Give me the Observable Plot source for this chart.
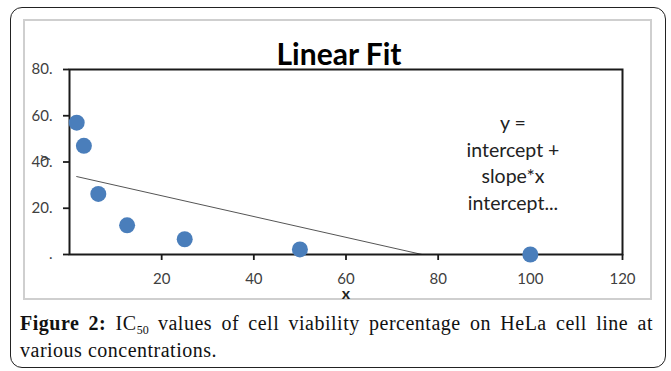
<!DOCTYPE html>
<html><head><meta charset="utf-8">
<script src="https://cdn.jsdelivr.net/npm/d3@7"></script>
<script src="https://cdn.jsdelivr.net/npm/@observablehq/plot@0.6"></script>
<style>
body{margin:0;width:671px;height:371px;position:relative;background:#fff;overflow:hidden}
#outer{position:absolute;left:10px;top:7px;width:656px;height:361px;border:1.3px solid #222;border-radius:12px;box-sizing:border-box}
#frame{position:absolute;left:23px;top:19px;width:629px;height:281px;border:2px solid #cfcfcf;box-sizing:border-box}
#chart{position:absolute;left:23px;top:19px}
#title{position:absolute;left:219px;width:240px;top:38px;text-align:center;font:bold 30px Lato,sans-serif;line-height:30px;color:#000}
#note{position:absolute;left:423px;width:180px;top:110px;text-align:center;font:19.5px Lato,sans-serif;line-height:26.5px;color:#222}
#caption{position:absolute;left:20px;width:633px;top:310px;font:20px "Liberation Serif",serif;letter-spacing:0.5px;line-height:27px;text-align:justify;color:#111}
#caption sub{font-size:12px;vertical-align:-4px;line-height:0;letter-spacing:0}
</style></head><body>
<div id="outer"></div>
<div id="frame"></div>
<div id="chart"></div>
<div id="title"></div>
<div id="note"></div>
<div id="caption"></div>
<script>
const concentrations = [1.5625, 3.125, 6.25, 12.5, 25, 50, 100];
const viability = [57, 47, 26.2, 12.6, 6.6, 2.2, 0];
const xTicks = [20, 40, 60, 80, 100, 120];
const yTicks = [0, 20, 40, 60, 80];
const yTickLabels = [".", "20.", "40.", "60.", "80."];
const titleText = "Linear Fit";
const xLabel = "x";
const yLabel = "y";
const annotationLines = ["y =", "intercept +", "slope*x", "intercept..."];

const data = concentrations.map((c, i) => ({x: c, y: viability[i]}));

document.getElementById("title").textContent = titleText;
document.getElementById("note").innerHTML = annotationLines.join("<br>");
document.getElementById("caption").innerHTML =
  '<b>Figure 2:</b> IC<sub>50</sub> values of cell viability percentage on HeLa cell line at various concentrations.';

const chart = Plot.plot({
  width: 629,
  height: 281,
  marginLeft: 46,
  marginRight: 30,
  marginTop: 50,
  marginBottom: 46,
  style: {fontFamily: "Lato, sans-serif", background: "transparent", overflow: "visible"},
  x: {domain: [0, 120]},
  y: {domain: [0, 80]},
  marks: [
    Plot.axisX(xTicks, {tickSize: 6, tickPadding: 13, fontSize: 15, stroke: "#1a1a1a", strokeWidth: 1.8, fill: "#404040", label: null}),
    Plot.axisY(yTicks, {tickSize: 6, tickPadding: 11, fontSize: 15, stroke: "#1a1a1a", strokeWidth: 1.8, fill: "#404040", label: null,
      tickFormat: d => yTickLabels[yTicks.indexOf(d)]}),
    Plot.linearRegressionY(data, {x: "x", y: "y", ci: 0, stroke: "#555", strokeWidth: 1, clip: true}),
    Plot.frame({stroke: "#1a1a1a", strokeWidth: 2}),
    Plot.dot(data, {x: "x", y: "y", r: 8, fill: "#4a7ebb"}),
    Plot.text([xLabel], {text: d => d, frameAnchor: "bottom", dy: 39, lineAnchor: "middle", fontSize: 16, fontWeight: "bold", fill: "#222"}),
    Plot.text([yLabel], {text: d => d, frameAnchor: "left", dx: -26, rotate: -90, lineAnchor: "middle", fontSize: 14, fill: "#404040"})
  ]
});
document.getElementById("chart").appendChild(chart);
</script>
</body></html>
